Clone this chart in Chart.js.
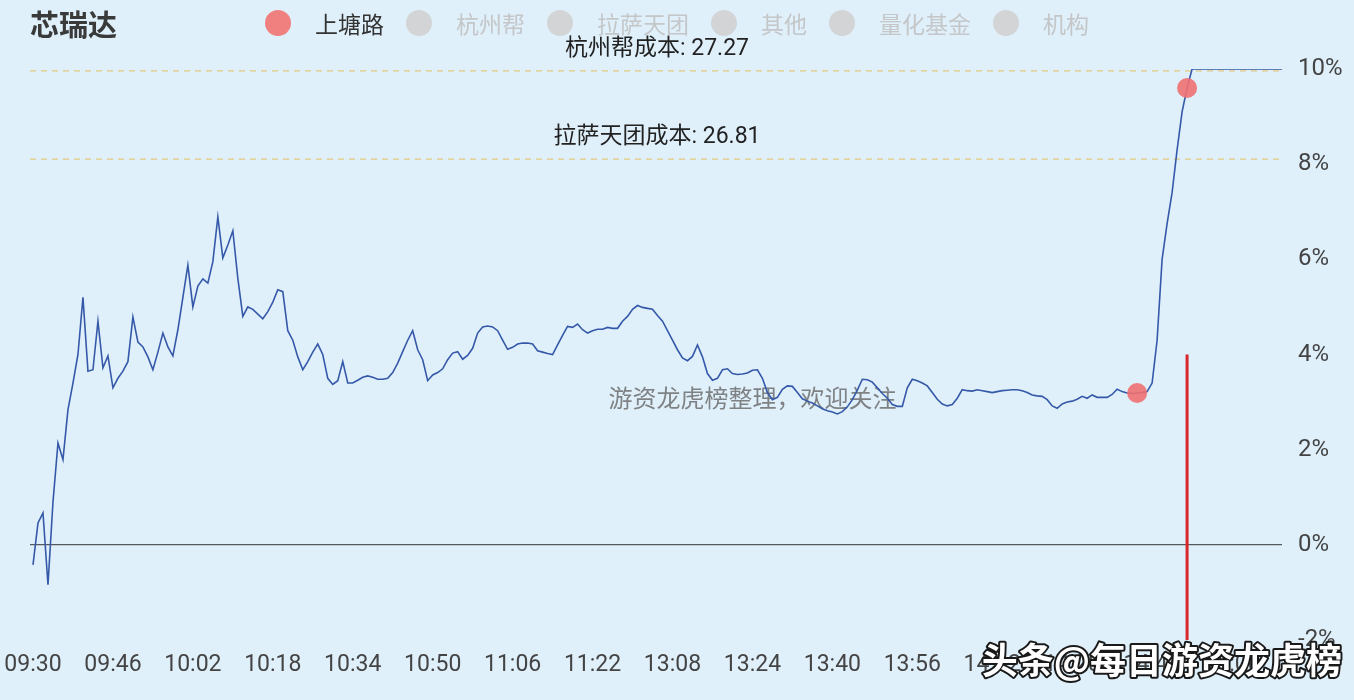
<!DOCTYPE html>
<html>
<head>
<meta charset="utf-8">
<title>芯瑞达</title>
<script src="https://cdn.jsdelivr.net/npm/chart.js@4.4.1/dist/chart.umd.min.js"></script>
<style>
    html, body { margin: 0; padding: 0; background: #dff0fb; }
    #wrap { width: 1354px; height: 700px; }
</style>
</head>
<body>
<div id="wrap"><canvas id="chart" width="1354" height="700"></canvas></div>
<script>
// 芯瑞达 intraday % change, one point per minute
const stockName = '芯瑞达';
const prevClose = 24.80;

const tickLabels = ['09:30', '09:46', '10:02', '10:18', '10:34', '10:50', '11:06', '11:22',
    '13:08', '13:24', '13:40', '13:56', '14:12', '14:28', '14:44', '15:00'];
const tickStep = 16;

const pctChange = [
    -0.42, 0.46, 0.67, -0.84, 0.9, 2.14, 1.79, 2.84, 3.4, 4.0,
    5.2, 3.65, 3.68, 4.7, 3.72, 3.97, 3.3, 3.5, 3.65, 3.85,
    4.79, 4.26, 4.16, 3.95, 3.68, 4.05, 4.45, 4.16, 3.97, 4.52,
    5.2, 5.88, 5.0, 5.44, 5.59, 5.5, 5.95, 6.89, 6.03, 6.3,
    6.6, 5.6, 4.8, 5.0, 4.95, 4.85, 4.75, 4.9, 5.1, 5.36,
    5.32, 4.5, 4.3, 3.95, 3.68, 3.85, 4.05, 4.22, 4.0, 3.5,
    3.37, 3.45, 3.85, 3.4, 3.4, 3.46, 3.52, 3.55, 3.52, 3.48,
    3.48, 3.5, 3.62, 3.82, 4.06, 4.3, 4.5, 4.1, 3.89, 3.45,
    3.57, 3.62, 3.7, 3.89, 4.03, 4.06, 3.9, 3.98, 4.13, 4.45,
    4.58, 4.6, 4.58, 4.5, 4.3, 4.11, 4.15, 4.22, 4.24, 4.24,
    4.22, 4.08, 4.05, 4.02, 4.0, 4.2, 4.4, 4.59, 4.57, 4.64,
    4.52, 4.45, 4.5, 4.53, 4.53, 4.57, 4.55, 4.55, 4.7, 4.8,
    4.95, 5.03, 4.99, 4.97, 4.95, 4.82, 4.7, 4.5, 4.3, 4.1,
    3.93, 3.87, 3.96, 4.2, 3.95, 3.6, 3.46, 3.5, 3.68, 3.7,
    3.6, 3.58, 3.59, 3.61, 3.67, 3.68, 3.5, 3.2, 3.05, 3.1,
    3.27, 3.34, 3.33, 3.2, 3.07, 3.02, 2.98, 2.92, 2.86, 2.82,
    2.79, 2.75, 2.8, 2.9, 3.05, 3.25, 3.48, 3.47, 3.42, 3.3,
    3.18, 3.08, 2.95, 2.91, 2.91, 3.3, 3.48, 3.45, 3.4, 3.34,
    3.2, 3.06, 2.96, 2.92, 2.95, 3.08, 3.26, 3.24, 3.23, 3.26,
    3.24, 3.22, 3.2, 3.22, 3.24, 3.25, 3.26, 3.26, 3.24, 3.2,
    3.15, 3.13, 3.12, 3.05, 2.92, 2.87, 2.96, 3.0, 3.02, 3.06,
    3.12, 3.08, 3.15, 3.1, 3.1, 3.1, 3.16, 3.27, 3.22, 3.19,
    3.18, 3.19, 3.2, 3.22, 3.4, 4.3, 6.0, 6.75, 7.4, 8.3,
    9.1, 9.6, 10.0, 10.0, 10.0, 10.0, 10.0, 10.0, 10.0, 10.0,
    10.0, 10.0, 10.0, 10.0, 10.0, 10.0, 10.0, 10.0, 10.0, 10.0,
    10.0
];

// 上塘路 trades (minute index) and the red bar
const buyIdx = [221, 231];
const barIdx = [231];
const barTop = [4.0];

// cost lines
const costNames = ['杭州帮', '拉萨天团'];
const costPrices = [27.27, 26.81];

// legend groups, only the first one has data
const groupNames = ['上塘路', '杭州帮', '拉萨天团', '其他', '量化基金', '机构'];

const FONT = 'Roboto, "Noto Sans CJK SC", sans-serif';
const CJK = '"Noto Sans CJK SC", sans-serif';
const BG = '#dff0fb';
const RED_DOT = 'rgba(238, 112, 112, 0.9)';

const costPct = costPrices.map(p => (p / prevClose - 1) * 100);
const X_MIN = -0.6;
const X_MAX = pctChange.length - 1;

const datasets = [];

// price line
datasets.push({
    type: 'line',
    data: pctChange.map((v, i) => ({ x: i, y: v })),
    borderColor: '#3559a8',
    borderWidth: 1.6,
    pointRadius: 0,
    tension: 0,
    order: 2
});

// cost dashed lines
costPct.forEach((v, k) => {
    datasets.push({
        type: 'line',
        costLabel: costNames[k] + '成本: ' + costPrices[k].toFixed(2),
        data: [{ x: X_MIN, y: v }, { x: X_MAX, y: v }],
        borderColor: '#e4c77f',
        borderWidth: 1.2,
        borderDash: [6, 5],
        pointRadius: 0,
        order: 3
    });
});

// red bar
barIdx.forEach((idx, k) => {
    datasets.push({
        type: 'line',
        data: [{ x: idx, y: -2 }, { x: idx, y: barTop[k] }],
        borderColor: '#d8262b',
        borderWidth: 3,
        pointRadius: 0,
        order: 4
    });
});

// group markers
groupNames.forEach((name, k) => {
    datasets.push({
        type: 'scatter',
        label: name,
        group: true,
        data: k === 0 ? buyIdx.map(i => ({ x: i, y: pctChange[i] })) : [],
        backgroundColor: RED_DOT,
        borderWidth: 0,
        pointRadius: 10,
        order: 1
    });
});

const decorPlugin = {
    id: 'decor',
    beforeDraw(chart) {
        const ctx = chart.ctx;
        ctx.save();
        ctx.fillStyle = BG;
        ctx.fillRect(0, 0, chart.width, chart.height);
        ctx.restore();
    },
    beforeDatasetsDraw(chart) {
        const ctx = chart.ctx;
        const x = chart.scales.x;
        const y = chart.scales.y;
        ctx.save();
        ctx.font = '24px ' + CJK;
        ctx.fillStyle = 'rgba(110, 110, 110, 0.85)';
        ctx.textAlign = 'center';
        ctx.textBaseline = 'middle';
        ctx.fillText('游资龙虎榜整理，欢迎关注', x.getPixelForValue(144), y.getPixelForValue(3.08));
        ctx.restore();
    },
    afterDatasetsDraw(chart) {
        const ctx = chart.ctx;
        const area = chart.chartArea;
        const y = chart.scales.y;
        ctx.save();
        ctx.font = '23px ' + FONT;
        ctx.fillStyle = '#222';
        ctx.textAlign = 'center';
        ctx.textBaseline = 'middle';
        chart.data.datasets.forEach(ds => {
            if (!ds.costLabel) return;
            const py = y.getPixelForValue(ds.data[0].y);
            ctx.fillText(ds.costLabel, (area.left + area.right) / 2 + 1, py - 22);
        });
        ctx.restore();
    },
    afterDraw(chart) {
        const ctx = chart.ctx;
        ctx.save();

        // title
        ctx.font = 'bold 29px ' + CJK;
        ctx.fillStyle = '#3a3a3a';
        ctx.textAlign = 'left';
        ctx.textBaseline = 'middle';
        ctx.fillText(stockName, 30, 25);

        // legend
        const groups = chart.data.datasets.filter(ds => ds.group);
        ctx.font = '23px ' + CJK;
        const r = 13, gapIn = 24, gapOut = 22;
        const widths = groups.map(g => 2 * r + gapIn + ctx.measureText(g.label).width);
        const total = widths.reduce((a, b) => a + b, 0) + gapOut * (groups.length - 1);
        let lx = chart.width / 2 - total / 2;
        const ly = 23;
        groups.forEach((g, k) => {
            const on = g.data.length > 0;
            ctx.beginPath();
            ctx.arc(lx + r, ly, r, 0, Math.PI * 2);
            ctx.fillStyle = on ? '#f08080' : '#d2d4d6';
            ctx.fill();
            ctx.fillStyle = on ? '#333' : '#c4c6c8';
            ctx.fillText(g.label, lx + 2 * r + gapIn, ly + 1);
            lx += widths[k] + gapOut;
        });

        // corner watermark
        ctx.font = 'bold 36px ' + CJK;
        ctx.textAlign = 'right';
        ctx.lineJoin = 'round';
        ctx.lineWidth = 4;
        ctx.strokeStyle = '#1a1a1a';
        ctx.strokeText('头条@每日游资龙虎榜', 1342, 660);
        ctx.fillStyle = '#ffffff';
        ctx.fillText('头条@每日游资龙虎榜', 1342, 660);
        ctx.restore();
    }
};

new Chart(document.getElementById('chart'), {
    data: { datasets: datasets },
    options: {
        responsive: false,
        animation: false,
        events: [],
        layout: { padding: { top: 69, left: 30, right: 0, bottom: 0 } },
        plugins: {
            legend: { display: false },
            tooltip: { enabled: false }
        },
        scales: {
            x: {
                type: 'linear',
                min: X_MIN,
                max: X_MAX,
                afterBuildTicks: axis => {
                    axis.ticks = tickLabels.map((_, k) => ({ value: k * tickStep }));
                },
                afterFit: axis => {
                    axis.height = 60;
                    axis.paddingLeft = 0;
                    axis.paddingRight = 0;
                },
                ticks: {
                    color: '#444',
                    font: { family: FONT, size: 23 },
                    padding: 11,
                    maxRotation: 0,
                    autoSkip: false,
                    callback: v => tickLabels[Math.round(v / tickStep)]
                },
                grid: { display: false, drawTicks: false },
                border: { display: false }
            },
            y: {
                position: 'right',
                min: -2,
                max: 10,
                afterFit: axis => { axis.width = 72; },
                ticks: {
                    stepSize: 2,
                    color: '#444',
                    font: { family: FONT, size: 24 },
                    padding: 16,
                    callback: v => v + '%'
                },
                grid: {
                    drawTicks: false,
                    lineWidth: 1.2,
                    color: c => c.tick && c.tick.value === 0 ? '#55595e' : 'rgba(0,0,0,0)'
                },
                border: { display: false }
            }
        }
    },
    plugins: [decorPlugin]
});
</script>
</body>
</html>
